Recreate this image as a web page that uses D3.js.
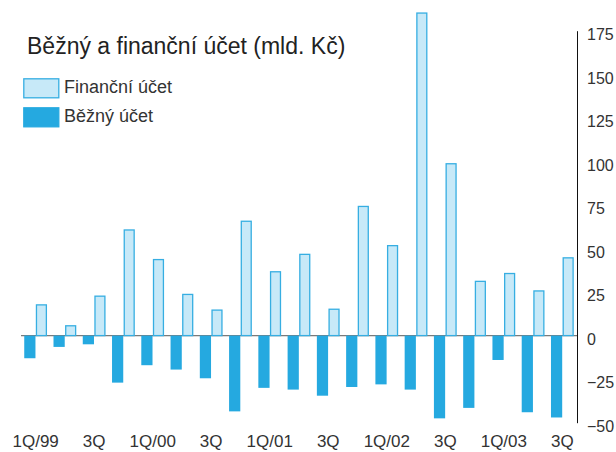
<!DOCTYPE html>
<html>
<head>
<meta charset="utf-8">
<script src="https://cdn.jsdelivr.net/npm/d3@7"></script>
<style>
  html, body { margin: 0; padding: 0; background: #fff; }
  svg { display: block; font-family: "Liberation Sans", Arial, Helvetica, sans-serif; }
</style>
</head>
<body>
<svg id="chart" width="616" height="452"></svg>
<script>
// ---- data ----
const quarters = ["1Q/99","2Q/99","3Q/99","4Q/99","1Q/00","2Q/00","3Q/00","4Q/00",
                  "1Q/01","2Q/01","3Q/01","4Q/01","1Q/02","2Q/02","3Q/02","4Q/02",
                  "1Q/03","2Q/03","3Q/03"];
const financniUcet = [18, 6, 23, 61, 44, 24, 15, 66, 37, 47, 15.5, 74.5, 52, 185.5, 99, 31.5, 36, 26, 45];
const beznyUcet = [-13, -6.5, -5, -27, -17, -19.5, -24.5, -43.5, -30, -31, -34.5, -29.5, -28, -31, -47.5, -41.5, -14, -44, -47];
const xTickLabels = {"1Q/99":"1Q/99","3Q/99":"3Q","1Q/00":"1Q/00","3Q/00":"3Q","1Q/01":"1Q/01",
                     "3Q/01":"3Q","1Q/02":"1Q/02","3Q/02":"3Q","1Q/03":"1Q/03","3Q/03":"3Q"};
const yTicks = [-50, -25, 0, 25, 50, 75, 100, 125, 150, 175];
const seriesNames = ["Běžný účet", "Finanční účet"];
const title = "Běžný a finanční účet (mld. Kč)";

(function () {
// ---- layout ----
const svg = d3.select("#chart");
const mLeft = 21, mRight = 577, mTop = 30.7, mBottom = 422.7;
const colDark = "#25a9e0", colLightFill = "#c7e9f8", colLightStroke = "#36aee2";

const x = d3.scaleBand().domain(quarters).range([mLeft, mRight]).padding(0);
const xs = d3.scaleBand().domain(seriesNames).range([0, x.bandwidth()])
  .paddingInner(0.03).paddingOuter(0.28);
const y = d3.scaleLinear().domain([-50, 175]).range([mBottom, mTop]);

// zero line
svg.append("line")
  .attr("x1", mLeft).attr("x2", mRight)
  .attr("y1", y(0)).attr("y2", y(0))
  .attr("stroke", "#7a7a7a").attr("stroke-width", 1.3);

// current account bars (dark)
svg.append("g").selectAll("rect").data(quarters).join("rect")
  .attr("x", (d) => x(d) + xs("Běžný účet"))
  .attr("width", xs.bandwidth())
  .attr("y", (d, i) => y(Math.max(0, beznyUcet[i])))
  .attr("height", (d, i) => Math.abs(y(beznyUcet[i]) - y(0)))
  .attr("fill", colDark);

// financial account bars (light with border)
svg.append("g").selectAll("rect").data(quarters).join("rect")
  .attr("x", (d) => x(d) + xs("Finanční účet") + 0.65)
  .attr("width", xs.bandwidth() - 1.3)
  .attr("y", (d, i) => y(Math.max(0, financniUcet[i])) + 0.65)
  .attr("height", (d, i) => Math.abs(y(financniUcet[i]) - y(0)) - 0.65)
  .attr("fill", colLightFill)
  .attr("stroke", colLightStroke)
  .attr("stroke-width", 1.3);

// right axis
const yAxis = d3.axisRight(y).tickValues(yTicks).tickSizeInner(0).tickSizeOuter(0).tickPadding(10);
const gy = svg.append("g").attr("transform", `translate(${mRight},0)`).call(yAxis);
gy.select(".domain").attr("stroke", "#111").attr("stroke-width", 1);
gy.selectAll("text").attr("font-size", 16).attr("fill", "#333").attr("dy", "0.55em")
  .attr("font-family", "Liberation Sans, Arial, sans-serif");

// bottom labels
const xAxis = d3.axisBottom(x).tickValues(Object.keys(xTickLabels))
  .tickFormat((d) => xTickLabels[d]).tickSize(0).tickPadding(0);
const gx = svg.append("g").attr("transform", `translate(0,434.5)`).call(xAxis);
gx.select(".domain").remove();
gx.selectAll("text").attr("font-size", 17).attr("fill", "#333")
  .attr("font-family", "Liberation Sans, Arial, sans-serif");

// title
svg.append("text").attr("x", 27).attr("y", 54.3)
  .attr("font-size", 23).attr("fill", "#222").text(title);

// legend
const legend = [
  {name: "Finanční účet", fill: colLightFill, stroke: colLightStroke, y: 78.3},
  {name: "Běžný účet", fill: colDark, stroke: colDark, y: 107.3}
];
const lg = svg.append("g");
lg.selectAll("rect").data(legend).join("rect")
  .attr("x", 23.8).attr("y", (d) => d.y + 0.5).attr("width", 35).attr("height", 19)
  .attr("fill", (d) => d.fill).attr("stroke", (d) => d.stroke).attr("stroke-width", 1.3);
lg.selectAll("text").data(legend).join("text")
  .attr("x", 64).attr("y", (d) => d.y + 15)
  .attr("font-size", 18).attr("fill", "#333").text((d) => d.name);
})();
</script>
</body>
</html>
